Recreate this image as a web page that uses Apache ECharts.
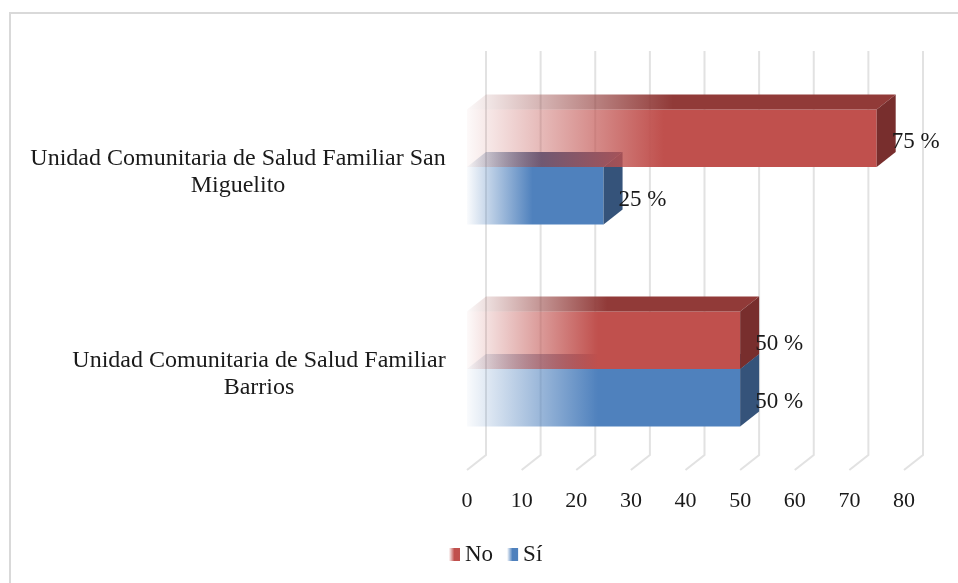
<!DOCTYPE html>
<html><head><meta charset="utf-8">
<script src="https://cdn.jsdelivr.net/npm/echarts@6/dist/echarts.min.js"></script>
<style>html,body{margin:0;padding:0;background:#fff}#c{width:958px;height:583px}</style>
</head><body><div id="c"></div>
<script>
const categories = ['Unidad Comunitaria de Salud Familiar San Miguelito', 'Unidad Comunitaria de Salud Familiar Barrios'];
const seriesNames = ['No', 'Sí'];
const noValues = [75, 50];
const siValues = [25, 50];
const xTicks = [0, 10, 20, 30, 40, 50, 60, 70, 80];

const FONT = '"Liberation Serif", "Times New Roman", serif';
const FS_CAT = 24, FS_TICK = 22, FS_VAL = 23, FS_LEG = 23;
const TEXT = '#1a1a1a';
const DX = 19, DY = -15;
const BAR_RATIO = 0.285;
const palette = {
  'No': {front: [192, 80, 77], top: [145, 58, 56], side: [120, 46, 45]},
  'Sí': {front: [79, 129, 189], top: [60, 94, 138], side: [53, 83, 122]}
};
function rgba(c, a) { return 'rgba(' + c[0] + ',' + c[1] + ',' + c[2] + ',' + a + ')'; }
function fade(c) {
  return new echarts.graphic.LinearGradient(0, 0, 1, 0, [
    {offset: 0, color: rgba(c, 0.03)},
    {offset: 0.48, color: rgba(c, 1)},
    {offset: 1, color: rgba(c, 1)}
  ]);
}

function barRenderer(name, upper) {
  const col = palette[name];
  return function (params, api) {
    const v = api.value(0), ci = api.value(1);
    const p0 = api.coord([0, ci]);
    const p1 = api.coord([v, ci]);
    const h = api.size([0, 1])[1] * BAR_RATIO;
    const x0 = p0[0], x1 = p1[0];
    const y0 = upper ? p0[1] - h : p0[1];
    const y1 = y0 + h;
    return {
      type: 'group',
      children: [
        {type: 'rect', shape: {x: x0, y: y0, width: x1 - x0, height: h}, style: {fill: fade(col.front)}},
        {type: 'polygon', shape: {points: [[x0, y0], [x1, y0], [x1 + DX, y0 + DY], [x0 + DX, y0 + DY]]}, style: {fill: fade(col.top)}},
        {type: 'polygon', shape: {points: [[x1, y0], [x1 + DX, y0 + DY], [x1 + DX, y1 + DY], [x1, y1]]}, style: {fill: rgba(col.side, 1)}},
        {type: 'text', style: {text: v + ' %', x: x1 + 15, y: (y0 + y1) / 2 + 4, verticalAlign: 'middle', align: 'left', font: FS_VAL + 'px ' + FONT, fill: TEXT}}
      ]
    };
  };
}

function gridRenderer(params, api) {
  const t = api.value(0);
  const cs = params.coordSys;
  const x = api.coord([t, 0])[0];
  const yb = cs.y + cs.height, yt = cs.y;
  return {
    type: 'polyline', silent: true,
    shape: {points: [[x, yb], [x + DX, yb + DY], [x + DX, yt + DY]]},
    style: {stroke: '#e2e2e2', lineWidth: 2, fill: null}
  };
}

const ctx = document.createElement('canvas').getContext('2d');
ctx.font = FS_CAT + 'px "Liberation Serif"';
function wrap(s) { const i = s.lastIndexOf(' '); return [s.slice(0, i), s.slice(i + 1)]; }
const rich = {};
categories.forEach(function (c, i) {
  const lines = wrap(c);
  const w = Math.max.apply(null, lines.map(function (l) { return ctx.measureText(l).width; }));
  rich['c' + i] = {width: Math.ceil(w) + 2, align: 'center', fontSize: FS_CAT, fontFamily: FONT, color: TEXT, lineHeight: 27};
});

const chart = echarts.init(document.getElementById('c'), null, {renderer: 'canvas'});
chart.setOption({
  backgroundColor: '#fff',
  animation: false,
  graphic: [{type: 'rect', shape: {x: 10, y: 13, width: 2000, height: 2000}, style: {fill: null, stroke: '#d9d9d9', lineWidth: 2}, silent: true}],
  grid: {left: 467, right: 54, top: 66, bottom: 113},
  xAxis: {
    type: 'value', min: 0, max: 80, interval: 10,
    axisLine: {show: false}, axisTick: {show: false}, splitLine: {show: false},
    axisLabel: {fontFamily: FONT, fontSize: FS_TICK, color: TEXT, margin: 20}
  },
  yAxis: {
    type: 'category', data: categories, inverse: true,
    axisLine: {show: false}, axisTick: {show: false}, splitLine: {show: false},
    axisLabel: {
      margin: 20, align: 'right', rich: rich, padding: [10, 0, 0, 0],
      formatter: function (val, idx) { return wrap(val).map(function (l) { return '{c' + idx + '|' + l + '}'; }).join('\n'); }
    }
  },
  legend: {
    data: seriesNames, left: 444, top: 538, icon: 'rect', itemWidth: 11, itemHeight: 13, itemGap: 14,
    textStyle: {fontFamily: FONT, fontSize: FS_LEG, color: TEXT}
  },
  series: [
    {type: 'custom', name: 'grid', silent: true, renderItem: gridRenderer, data: xTicks.map(function (t) { return [t, 0]; }), z: 1},
    {type: 'custom', name: 'Sí', renderItem: barRenderer('Sí', false), itemStyle: {color: fade(palette['Sí'].front)},
      data: siValues.map(function (v, i) { return [v, i]; }), z: 2},
    {type: 'custom', name: 'No', renderItem: barRenderer('No', true), itemStyle: {color: fade(palette['No'].front)},
      data: noValues.map(function (v, i) { return [v, i]; }), z: 2}
  ]
});
</script></body></html>
